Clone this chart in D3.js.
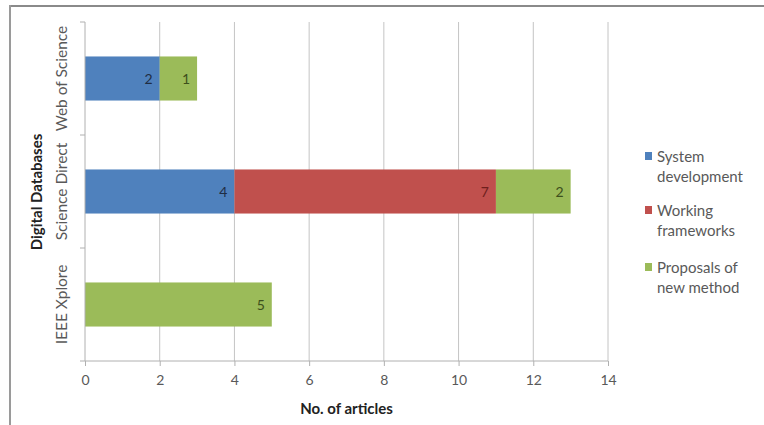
<!DOCTYPE html>
<html>
<head>
<meta charset="utf-8">
<script src="https://cdn.jsdelivr.net/npm/d3@7"></script>
<style>
  body { margin: 0; background: #fff; }
  text { font-family: Lato, "Open Sans", sans-serif; }
</style>
</head>
<body>
<svg width="764" height="425"></svg>
<script>
const databases = ['Web of Science', 'Science Direct', 'IEEE Xplore'];
const seriesNames = ['System development', 'Working frameworks', 'Proposals of new method'];
const systemDev = [2, 4, 0];
const workingFw = [0, 7, 0];
const proposals = [1, 2, 5];
const xTicks = [0, 2, 4, 6, 8, 10, 12, 14];
const colors = ['#4f81bd', '#c0504d', '#9bbb59'];
const labelColors = ['#1f2d44', '#6e1f1d', '#3d4f1c'];
const legendLines = [['System', 'development'], ['Working', 'frameworks'], ['Proposals of', 'new method']];

const svg = d3.select('svg');

// frame (only top and left edge show in the picture)
svg.append('line').attr('x1', 9).attr('x2', 764).attr('y1', 6).attr('y2', 6)
  .attr('stroke', '#8a8a8a').attr('stroke-width', 2);
svg.append('line').attr('x1', 10).attr('x2', 10).attr('y1', 5).attr('y2', 425)
  .attr('stroke', '#9a9a9a').attr('stroke-width', 2);

const margin = {top: 22, left: 85};
const innerwidth = 523, innerheight = 339;

const g = svg.append('g').attr('transform', 'translate(' + margin.left + ',' + margin.top + ')');

const table = databases.map((d, i) => ({
  name: d,
  'System development': systemDev[i],
  'Working frameworks': workingFw[i],
  'Proposals of new method': proposals[i]
}));

const stack = d3.stack().keys(seriesNames)(table);

const xscale = d3.scaleLinear().domain([0, 14]).range([0, innerwidth]);
const yscale = d3.scaleBand().domain(databases).range([0, innerheight])
  .paddingInner(0.61).paddingOuter(0.305);
const ycat = d3.scaleBand().domain(databases).range([0, innerheight]);

// gridlines
g.selectAll('.grid').data(xTicks.slice(1)).enter().append('line')
  .attr('x1', d => xscale(d)).attr('x2', d => xscale(d))
  .attr('y1', 0).attr('y2', innerheight)
  .attr('stroke', '#c4c4c4').attr('stroke-width', 1);

// bars
const layer = g.selectAll('.layer').data(stack).enter().append('g')
  .attr('fill', (d, i) => colors[i]);

layer.selectAll('rect').data(d => d.filter(p => p[1] - p[0] > 0)).enter().append('rect')
  .attr('x', d => xscale(d[0]))
  .attr('y', d => yscale(d.data.name))
  .attr('width', d => xscale(d[1]) - xscale(d[0]))
  .attr('height', yscale.bandwidth());

// data labels, inside end
stack.forEach((s, i) => {
  g.selectAll('.lbl' + i).data(s.filter(p => p[1] - p[0] > 0)).enter().append('text')
    .attr('x', d => xscale(d[1]) - 7)
    .attr('y', d => yscale(d.data.name) + yscale.bandwidth() / 2 + 5)
    .attr('text-anchor', 'end')
    .attr('font-size', 14)
    .attr('fill', labelColors[i])
    .text(d => d[1] - d[0]);
});

// x axis
const xaxisG = g.append('g').attr('transform', 'translate(0,' + innerheight + ')')
  .call(d3.axisBottom(xscale).tickValues(xTicks).tickSize(5).tickPadding(9));
xaxisG.select('.domain').attr('stroke', '#b0b0b0').attr('d', 'M0,0H' + innerwidth);
xaxisG.selectAll('.tick line').attr('stroke', '#b0b0b0');
xaxisG.selectAll('.tick text').attr('font-size', 14).attr('fill', '#595959')
  .style('font-family', 'Lato, sans-serif');

// y axis
const yaxisG = g.append('g');
yaxisG.append('line').attr('x1', 0).attr('x2', 0).attr('y1', 0).attr('y2', innerheight)
  .attr('stroke', '#b0b0b0');
yaxisG.selectAll('.ytick').data([0, 1, 2, 3]).enter().append('line')
  .attr('x1', -5).attr('x2', 0)
  .attr('y1', d => d * ycat.step()).attr('y2', d => d * ycat.step())
  .attr('stroke', '#b0b0b0');
yaxisG.selectAll('.ylabel').data(databases).enter().append('text')
  .attr('transform', d => 'translate(-18,' + (ycat(d) + ycat.bandwidth() / 2) + ') rotate(-90)')
  .attr('text-anchor', 'middle')
  .attr('font-size', 15.5)
  .attr('fill', '#595959')
  .text(d => d);

// axis titles
svg.append('text')
  .attr('x', margin.left + innerwidth / 2).attr('y', 414)
  .attr('text-anchor', 'middle').attr('font-size', 15).attr('font-weight', 'bold')
  .attr('fill', '#222').text('No. of articles');
svg.append('text')
  .attr('transform', 'translate(42,192) rotate(-90)')
  .attr('text-anchor', 'middle').attr('font-size', 15).attr('font-weight', 'bold')
  .attr('fill', '#222').text('Digital Databases');

// legend
const legend = svg.append('g').attr('transform', 'translate(645,0)');
const ly = [162, 216, 273];
seriesNames.forEach((s, i) => {
  legend.append('rect').attr('x', 0).attr('y', ly[i] - 10).attr('width', 7).attr('height', 8)
    .attr('fill', colors[i]);
  legend.append('text').attr('x', 12).attr('y', ly[i]).attr('font-size', 15).attr('fill', '#595959')
    .text(legendLines[i][0]);
  legend.append('text').attr('x', 12).attr('y', ly[i] + 20).attr('font-size', 15).attr('fill', '#595959')
    .text(legendLines[i][1]);
});
</script>
</body>
</html>
